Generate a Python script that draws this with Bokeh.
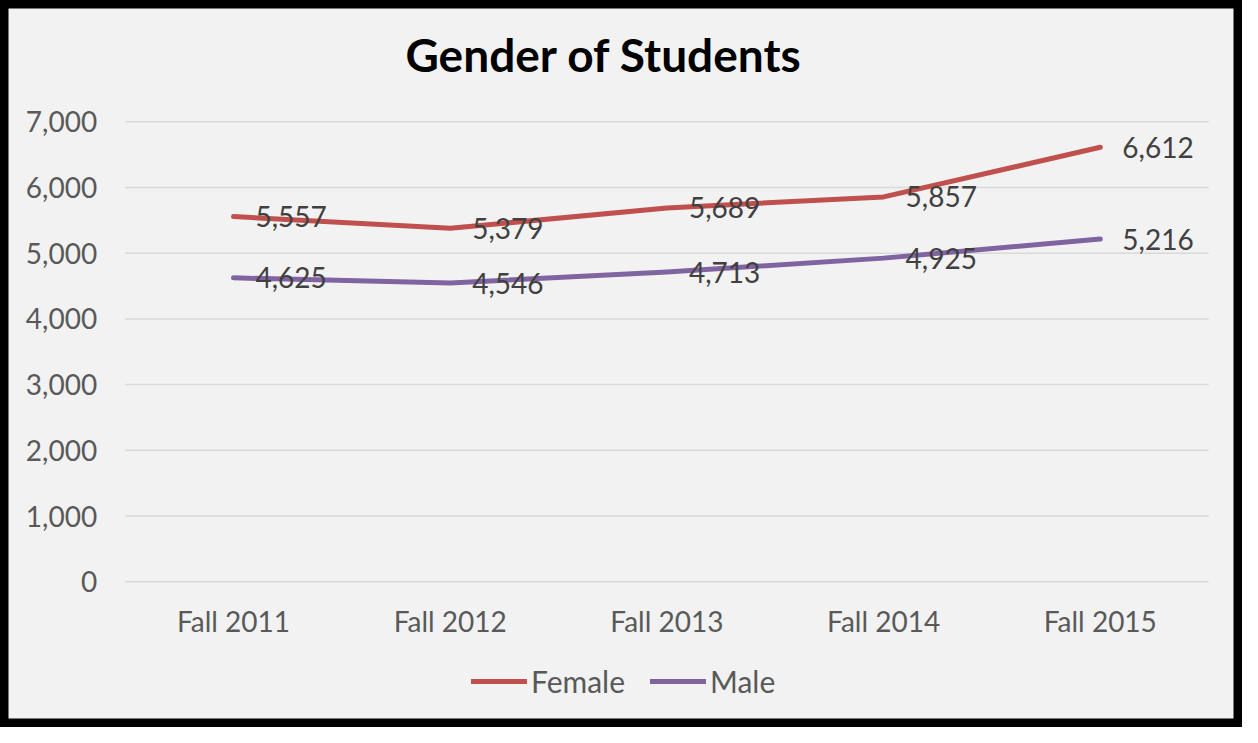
from bokeh.plotting import figure
from bokeh.models import Range1d, Legend, LegendItem, ColumnDataSource, Label
from bokeh.core.properties import value
from bokeh.embed import file_html
from bokeh.resources import INLINE

categories = ["Fall 2011", "Fall 2012", "Fall 2013", "Fall 2014", "Fall 2015"]
female = [5557, 5379, 5689, 5857, 6612]
male = [4625, 4546, 4713, 4925, 5216]
y_ticks = [0, 1000, 2000, 3000, 4000, 5000, 6000, 7000]
y_tick_labels = [f"{v:,}" for v in y_ticks]
title_text = "Gender of Students"

FONT = "Lato"
BG = "#F2F2F2"
FEMALE_C = "#C0504D"
MALE_C = "#8064A2"

W, H = 1242, 727
# layout (canvas pixels)
CAT0_PX, CAT_STEP_PX = 233.0, 216.7       # centre of first category, spacing
Y0_PX, Y_TOP_PX = 581.2, 121.3            # pixel rows of 0 and of the top tick
YMAX = y_ticks[-1]
px_per_unit_y = (Y0_PX - Y_TOP_PX) / YMAX

x_start = -CAT0_PX / CAT_STEP_PX
x_end = x_start + W / CAT_STEP_PX
y_start = -(H - Y0_PX) / px_per_unit_y
y_end = YMAX + Y_TOP_PX / px_per_unit_y

def px_x(cx):
    return x_start + cx / CAT_STEP_PX

def px_y(cy):
    return y_end - cy / px_per_unit_y

p = figure(width=W, height=H, x_range=Range1d(x_start, x_end), y_range=Range1d(y_start, y_end),
           output_backend="svg", toolbar_location=None,
           min_border=0, min_border_left=0, min_border_right=0, min_border_top=0, min_border_bottom=0)
p.xaxis.visible = False
p.yaxis.visible = False
p.xgrid.visible = False
p.ygrid.visible = False
p.background_fill_color = BG
p.border_fill_color = BG
p.outline_line_color = "black"
p.outline_line_width = 16

xi = list(range(len(categories)))

# horizontal gridlines
p.segment(x0=[-0.5] * len(y_ticks), x1=[len(categories) - 0.5] * len(y_ticks), y0=y_ticks, y1=y_ticks,
          line_color="#D9D9D9", line_width=1.5)

# y tick labels
p.text(x=[-0.5] * len(y_ticks), y=y_ticks, text=y_tick_labels, x_offset=-28,
       text_align="right", text_baseline="middle",
       text_font=value(FONT), text_font_size="28px", text_color="#595959")

# x category labels
p.text(x=xi, y=[px_y(Y0_PX + 39)] * len(categories), text=categories,
       text_align="center", text_baseline="middle",
       text_font=value(FONT), text_font_size="28px", text_color="#595959")

src = ColumnDataSource(dict(x=xi, f=female, m=male,
                            fl=[f"{v:,}" for v in female], ml=[f"{v:,}" for v in male]))

rf = p.line("x", "f", source=src, line_color=FEMALE_C, line_width=5, line_cap="round", line_join="round")
rm = p.line("x", "m", source=src, line_color=MALE_C, line_width=5, line_cap="round", line_join="round")

for col, ycol in (("fl", "f"), ("ml", "m")):
    p.text("x", ycol, text=col, source=src, x_offset=22, text_baseline="middle", text_align="left",
           text_font=value(FONT), text_font_size="28px", text_color="#404040")

# title
p.add_layout(Label(x=px_x(405), y=px_y(54), text=title_text, text_align="left", text_baseline="middle",
                   text_font=FONT, text_font_size="46px", text_font_style="bold", text_color="#000000"))

legend = Legend(items=[LegendItem(label="Female", renderers=[rf]), LegendItem(label="Male", renderers=[rm])],
                orientation="horizontal", location=(471, 28),
                label_text_font=FONT, label_text_font_size="30px", label_text_color="#595959",
                glyph_width=56, glyph_height=30, label_standoff=4, spacing=25,
                background_fill_alpha=0, border_line_color=None, padding=5, margin=0)
p.add_layout(legend)

open("out.html", "w").write(file_html(p, INLINE))
